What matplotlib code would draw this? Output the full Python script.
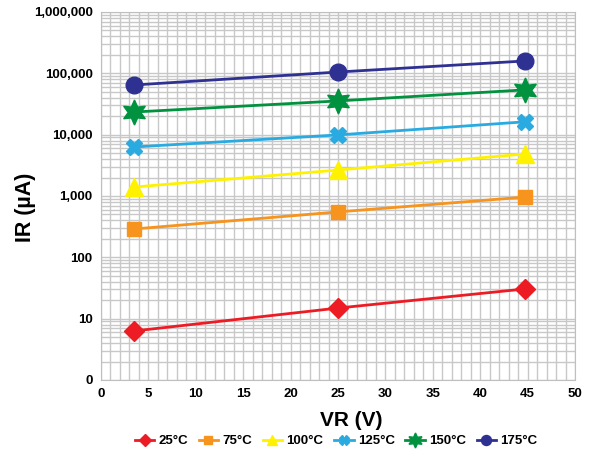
import matplotlib
matplotlib.use("Agg")
import matplotlib.pyplot as plt
from matplotlib.ticker import FixedLocator, LogLocator, NullFormatter, MultipleLocator

plt.rcParams['font.family'] = ['Liberation Sans', 'DejaVu Sans']

vr = [3.5, 25, 44.7]
labels = ['25°C', '75°C', '100°C', '125°C', '150°C', '175°C']
ir_25 = [6.3, 14.9, 30.5]
ir_75 = [290, 550, 960]
ir_100 = [1400, 2650, 4840]
ir_125 = [6300, 9900, 16200]
ir_150 = [23400, 35500, 53700]
ir_175 = [64600, 105000, 159000]
series = [ir_25, ir_75, ir_100, ir_125, ir_150, ir_175]
colors = ['#ED1C24', '#F7941D', '#FFF200', '#29ABE2', '#00923F', '#2E3192']
markers = ['D', 's', '^', 'X', (6, 1, 0), 'o']
msizes = [10, 10, 13, 12, 18, 12]

ytick_vals = [1, 10, 100, 1000, 10000, 100000, 1000000]
ytick_labels = ['0', '10', '100', '1,000', '10,000', '100,000', '1,000,000']
xticks = [0, 5, 10, 15, 20, 25, 30, 35, 40, 45, 50]

W, H = 592, 449
fig = plt.figure(figsize=(W/100, H/100), dpi=100)
ax = fig.add_axes([101/W, 69/H, 474/W, 368/H])

for ys, c, m, ms, lab in zip(series, colors, markers, msizes, labels):
    ax.plot(vr, ys, color=c, lw=2, marker=m, ms=ms, mec=c, mfc=c, label=lab, zorder=3)

ax.set_yscale('log')
ax.set_ylim(1, 1e6)
ax.set_xlim(0, 50)
ax.yaxis.set_major_locator(FixedLocator(ytick_vals))
ax.set_yticklabels(ytick_labels)
ax.yaxis.set_minor_locator(LogLocator(base=10, subs=range(2, 10), numticks=20))
ax.yaxis.set_minor_formatter(NullFormatter())
ax.set_xticks(xticks)
ax.xaxis.set_minor_locator(MultipleLocator(1))

gc = '#C8C8C8'
ax.grid(True, which='both', color=gc, lw=1)
ax.set_axisbelow(True)
for s in ax.spines.values():
    s.set_color('#BFBFBF')
ax.tick_params(which='both', length=0, pad=6)
for t in ax.get_xticklabels() + ax.get_yticklabels():
    t.set_fontweight('bold')
    t.set_fontsize(9.5)

fig.text(351/W, 1 - 420/H, 'VR (V)', fontsize=15, fontweight='bold', ha='center', va='center')
fig.text(25/W, 1 - 207/H, 'IR (µA)', fontsize=15.5, fontweight='bold', ha='center', va='center',
         rotation=90)

handles, labs = ax.get_legend_handles_labels()
leg = fig.legend(handles, labs, loc='center', bbox_to_anchor=(336/W, 1 - 441/H), ncol=6,
                 frameon=False, fontsize=9.5, handlelength=1.5, columnspacing=0.8,
                 handletextpad=0.3, markerscale=0.6)
for t in leg.get_texts():
    t.set_fontweight('bold')

fig.savefig('out.png', dpi=100)
